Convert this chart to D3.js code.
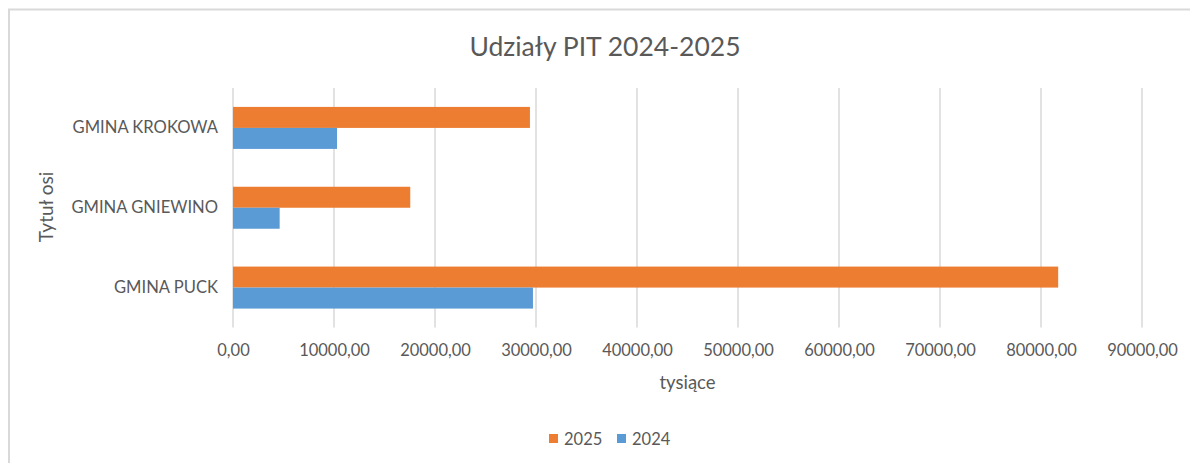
<!DOCTYPE html>
<html><head><meta charset="utf-8">
<script src="https://cdn.jsdelivr.net/npm/d3@7"></script>
<style>body{margin:0;background:#fff}svg{display:block}</style>
</head><body>
<script>
const categories = ["GMINA PUCK", "GMINA GNIEWINO", "GMINA KROKOWA"];
const seriesNames = ["2025", "2024"];
const values2025 = [81700, 17550, 29400];
const values2024 = [29700, 4620, 10300];
const xTicks = [0, 10000, 20000, 30000, 40000, 50000, 60000, 70000, 80000, 90000];
const colors = {"2025": "#ed7d31", "2024": "#5b9bd5"};

(function () {
const W = 1190, H = 463;
const font = "Lato, 'Open Sans', sans-serif";
const txt = "#595959";
const svg = d3.select("body").append("svg").attr("width", W).attr("height", H);

// chart border (top and left visible)
svg.append("line").attr("x1", 8).attr("x2", W).attr("y1", 9.5).attr("y2", 9.5).attr("stroke", "#d9d9d9").attr("stroke-width", 2);
svg.append("line").attr("x1", 9).attr("x2", 9).attr("y1", 9).attr("y2", H).attr("stroke", "#d9d9d9").attr("stroke-width", 2);

const pLeft = 233, pRight = 1142, pTop = 88, pBottom = 327.5;
const x = d3.scaleLinear().domain([0, 90000]).range([pLeft, pRight]);
const y = d3.scaleBand().domain(categories.slice().reverse()).range([pTop, pBottom]).paddingInner(0).paddingOuter(0);
const inner = d3.scaleBand().domain(seriesNames).range([0, 42]);

// gridlines
svg.append("g").selectAll("line").data(xTicks).join("line")
  .attr("x1", d => x(d)).attr("x2", d => x(d))
  .attr("y1", pTop).attr("y2", pBottom)
  .attr("stroke", "#d9d9d9").attr("stroke-width", 1.5);

// tick labels
const xAxis = d3.axisBottom(x).tickValues(xTicks).tickSize(0)
  .tickFormat(d => d3.format(".2f")(d).replace(".", ","));
const gx = svg.append("g").attr("transform", `translate(0,${pBottom + 14})`).call(xAxis);
gx.select(".domain").remove();
gx.selectAll("text").attr("font-family", font).attr("font-size", 16.5).attr("fill", txt);

// bars
const data = categories.map((c, i) => ({cat: c, "2025": values2025[i], "2024": values2024[i]}));
const groups = svg.append("g").selectAll("g").data(data).join("g")
  .attr("transform", d => `translate(0,${y(d.cat) + (y.bandwidth() - 42) / 2})`);
groups.selectAll("rect").data(d => seriesNames.map(s => ({s, v: d[s]}))).join("rect")
  .attr("x", x(0)).attr("y", d => inner(d.s))
  .attr("width", d => x(d.v) - x(0)).attr("height", inner.bandwidth())
  .attr("fill", d => colors[d.s]);

// category labels
const yAxis = d3.axisLeft(y).tickSize(0).tickPadding(15);
const gy = svg.append("g").attr("transform", `translate(${pLeft},0)`).call(yAxis);
gy.select(".domain").remove();
gy.selectAll("text").attr("font-family", font).attr("font-size", 16.6).attr("fill", txt);

// title
svg.append("text").attr("x", 605).attr("y", 56).attr("text-anchor", "middle")
  .attr("font-family", font).attr("font-size", 26.5).attr("fill", txt).text("Udziały PIT 2024-2025");

// axis titles
svg.append("text").attr("x", (pLeft + pRight) / 2).attr("y", 389).attr("text-anchor", "middle")
  .attr("font-family", font).attr("font-size", 18.5).attr("fill", txt).text("tysiące");
svg.append("text").attr("transform", "translate(53,207) rotate(-90)").attr("text-anchor", "middle")
  .attr("font-family", font).attr("font-size", 19).attr("fill", txt).text("Tytuł osi");

// legend
const legend = svg.append("g").attr("transform", "translate(549,434)");
const lx = [0, 68];
seriesNames.forEach((s, i) => {
  const g = legend.append("g").attr("transform", `translate(${lx[i]},0)`);
  g.append("rect").attr("width", 9).attr("height", 9).attr("fill", colors[s]);
  g.append("text").attr("x", 15).attr("y", 10.5).attr("font-family", font).attr("font-size", 16.5).attr("fill", txt).text(s);
});
})();
</script>
</body></html>
